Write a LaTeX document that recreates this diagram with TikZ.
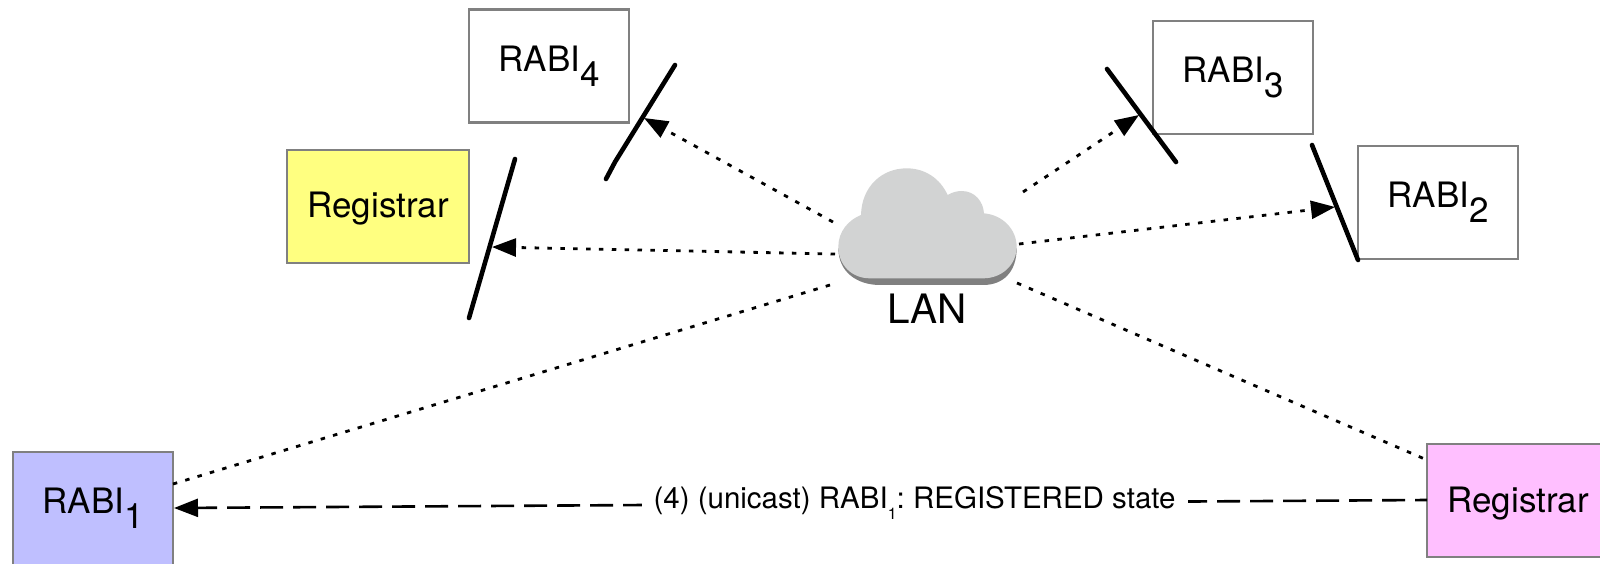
\documentclass[tikz,border=0pt]{standalone}
\usepackage{fontspec}
\setmainfont{TeX Gyre Heros}
\usetikzlibrary{arrows.meta}
\frenchspacing
\newcommand{\rabi}[1]{RABI\raisebox{-15pt}{#1}}
\tikzset{
  x=1pt,y=-1pt,
  every node/.style={font=\fontsize{35}{40}\selectfont,outer sep=0pt,inner sep=0pt},
  boxnode/.style={draw=boxgray,line width=2.4pt,minimum height=113pt,anchor=north west},
  rabibox/.style={boxnode,minimum width=160pt},
  regbox/.style={boxnode,minimum width=182pt,text height=25pt,text depth=2pt},
  bar/.style={line width=4.6pt,line cap=round,line join=round},
  dotline/.style={line width=2.8pt,dash pattern=on 4.5pt off 8.37pt},
  dashline/.style={line width=2.6pt,dash pattern=on 23pt off 10pt,dash phase=11pt},
  tip/.style={-{Triangle[length=24pt,width=18pt]}}
}
\definecolor{boxgray}{HTML}{808080}
\definecolor{cloudface}{HTML}{D2D3D3}
\definecolor{cloudedge}{HTML}{808080}
\definecolor{yellowbox}{HTML}{FFFF80}
\definecolor{bluebox}{HTML}{BFBFFF}
\definecolor{pinkbox}{HTML}{FFBFFF}
\begin{document}
\begin{tikzpicture}
\useasboundingbox (0,0) rectangle (1600,564);
% boxes
\node[rabibox] (r4) at (469,9.5) {\rabi{4}};
\node[rabibox] (r3) at (1153,21) {\rabi{3}};
\node[rabibox] (r2) at (1358,146) {\rabi{2}};
\node[rabibox,fill=bluebox] (r1) at (13,452) {\rabi{1}};
\node[regbox,fill=yellowbox] (regy) at (287,150) {Registrar};
\node[regbox,fill=pinkbox] (regp) at (1427,444) {Registrar};
% cloud
\begin{scope}[shift={(780,140)},x=0.3333pt,y=-0.3333pt]
  \fill[cloudedge] (175,325) .. controls (175,395) and (230,435) .. (300,435)
     -- (610,435) .. controls (670,435) and (710,395) .. (710,325) -- cycle;
  \fill[cloudface] (243,225) .. controls (245,140) and (305,85) .. (380,85)
     .. controls (435,85) and (480,115) .. (503,165)
     .. controls (520,155) and (535,153) .. (545,153)
     .. controls (585,153) and (610,185) .. (612,220)
     .. controls (670,225) and (710,270) .. (710,320)
     .. controls (710,375) and (665,415) .. (610,415)
     -- (270,415)
     .. controls (215,415) and (175,375) .. (175,320)
     .. controls (175,275) and (205,240) .. (243,225) -- cycle;
\end{scope}
\node[font=\fontsize{40.5}{46}\selectfont,anchor=base] (lan) at (927,323) {LAN};
% bars
\coordinate (b4a) at (675,65);
\coordinate (b4k) at (615,162);
\coordinate (b4b) at (606,179);
\coordinate (bya) at (515,159);
\coordinate (byb) at (469,318);
\coordinate (b3a) at (1107,69);
\coordinate (b3b) at (1176,162);
\coordinate (b2a) at (1312,145);
\coordinate (b2b) at (1358,260);
\draw[bar] (b4a) -- (b4k) -- (b4b);
\draw[bar] (bya) -- (byb);
\draw[bar] (b3a) -- (b3b);
\draw[bar] (b2a) -- (b2b);
% connector ends
\coordinate (c4) at (833,222);
\coordinate (t4) at (644,118);
\coordinate (cy) at (835,254);
\coordinate (ty) at (492,247);
\coordinate (c3) at (1023,192);
\coordinate (t3) at (1139,115);
\coordinate (c2) at (1019,244);
\coordinate (t2) at (1335,207);
\coordinate (c1) at (830,285);
\coordinate (e1) at (173,484);
\coordinate (cp) at (1017,283);
\coordinate (ep) at (1427,460);
\coordinate (sp) at (1427,500);
\coordinate (t1) at (174,508);
\draw[dotline,tip] (c4) -- (t4);
\draw[dotline,tip] (cy) -- (ty);
\draw[dotline,tip] (c3) -- (t3);
\draw[dotline,tip] (c2) -- (t2);
\draw[dotline] (c1) -- (e1);
\draw[dotline] (cp) -- (ep);
\draw[dashline,tip] (sp) -- node[pos=0.409,fill=white,inner xsep=12pt,inner ysep=4pt,text height=21pt,text depth=11pt,font=\fontsize{29.5}{34}\selectfont] (lab) {(4) (unicast) RABI\raisebox{-11pt}{\fontsize{16}{16}\selectfont 1}: REGISTERED state} (t1);
\end{tikzpicture}
\end{document}
